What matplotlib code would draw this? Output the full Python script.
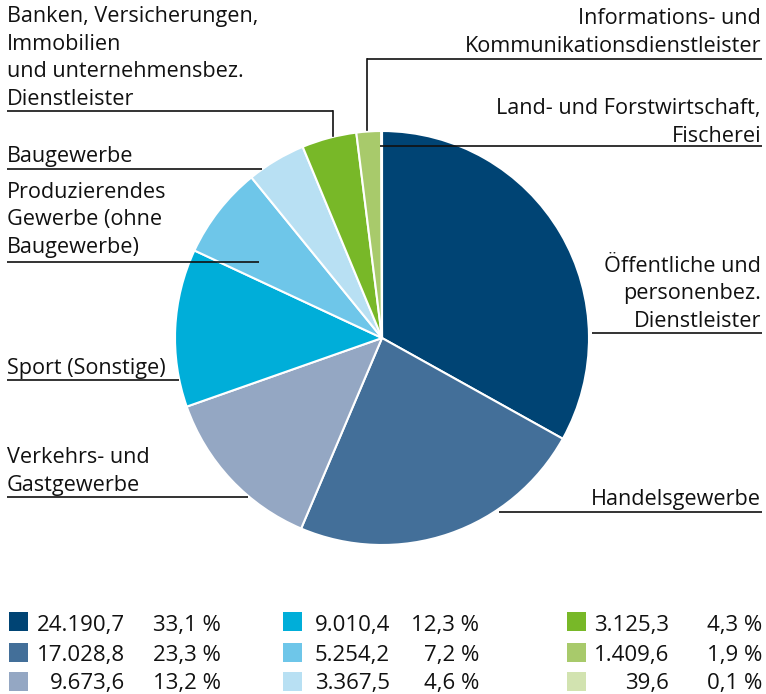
import matplotlib.pyplot as plt
from matplotlib.patches import Rectangle

# Daten
branchen = ['Öffentliche und\npersonenbez.\nDienstleister',
            'Handelsgewerbe',
            'Verkehrs- und\nGastgewerbe',
            'Sport (Sonstige)',
            'Produzierendes\nGewerbe (ohne\nBaugewerbe)',
            'Baugewerbe',
            'Banken, Versicherungen,\nImmobilien\nund unternehmensbez.\nDienstleister',
            'Informations- und\nKommunikationsdienstleister',
            'Land- und Forstwirtschaft,\nFischerei']
werte = [24190.7, 17028.8, 9673.6, 9010.4, 5254.2, 3367.5, 3125.3, 1409.6, 39.6]
farben = ['#004474', '#436f99', '#94a7c3', '#00aed9', '#6ec6e9',
          '#b8e0f3', '#78b828', '#a8ca6b', '#d2e3b0']

# Layout in Pixeln (y von oben)
W, H = 766, 694
mitte = (382, 338)
radius = 207

# Beschriftung: x Text, Ausrichtung, Grundlinie letzte Zeile, Linie y, Linie x von/bis, senkrecht bis
beschr = [
    (761, 'right', 327, 333, 592, 762, None),
    (761, 'right', 505, 512, 499, 762, None),
    (7, 'left', 491, 497, 7, 248, None),
    (7, 'left', 374, 380, 7, 179, None),
    (7, 'left', 253, 262, 7, 259, None),
    (7, 'left', 162, 169, 7, 262, None),
    (7, 'left', 105, 111, 7, 333, 136),
    (761, 'right', 52, 59, 367, 762, 130),
    (761, 'right', 142, 146, 380, 762, None),
]

plt.rcParams['font.family'] = ['Open Sans', 'DejaVu Sans']

fig = plt.figure(figsize=(W / 100, H / 100), dpi=100)
ax = fig.add_axes([0, 0, 1, 1])

def Y(y):
    return H - y

ax.pie(werte, colors=farben, startangle=90, counterclock=False,
       center=(mitte[0], Y(mitte[1])), radius=radius, frame=True,
       wedgeprops=dict(edgecolor='white', linewidth=1.5))
ax.set_xlim(0, W)
ax.set_ylim(0, H)
ax.axis('off')

for name, (tx, ha, base, ly, lx0, lx1, vend) in zip(branchen, beschr):
    ax.text(tx, Y(base), name, ha=ha, va='baseline', fontsize=15.6,
            linespacing=1.42, color='#111111')
    ax.plot([lx0, lx1], [Y(ly), Y(ly)], color='#111111', lw=1.2,
            solid_capstyle='butt')
    if vend is not None:
        vx = lx1 if ha == 'left' else lx0
        ax.plot([vx, vx], [Y(ly), Y(vend)], color='#111111', lw=1.2)

# Legende
gesamt = sum(werte)

def de(zahl, stellen=1):
    s = f'{zahl:,.{stellen}f}'
    return s.replace(',', 'X').replace('.', ',').replace('X', '.')

spalte_box = [9, 283, 567]
spalte_wert = [125, 390, 669]
spalte_proz = [221, 479, 762]
zeile_mitte = [621.5, 652, 681]
zeile_basis = [631, 661, 689]
box = 19

for i, (w, f) in enumerate(zip(werte, farben)):
    s, z = i // 3, i % 3
    ym = zeile_mitte[z]
    ax.add_patch(Rectangle((spalte_box[s], Y(ym + box / 2)), box, box,
                           facecolor=f, edgecolor='none'))
    ax.text(spalte_wert[s], Y(zeile_basis[z]), de(w), ha='right',
            va='baseline', fontsize=16, color='#111111')
    ax.text(spalte_proz[s], Y(zeile_basis[z]), de(w / gesamt * 100) + ' %',
            ha='right', va='baseline', fontsize=16, color='#111111')

fig.savefig('out.png', dpi=100)
